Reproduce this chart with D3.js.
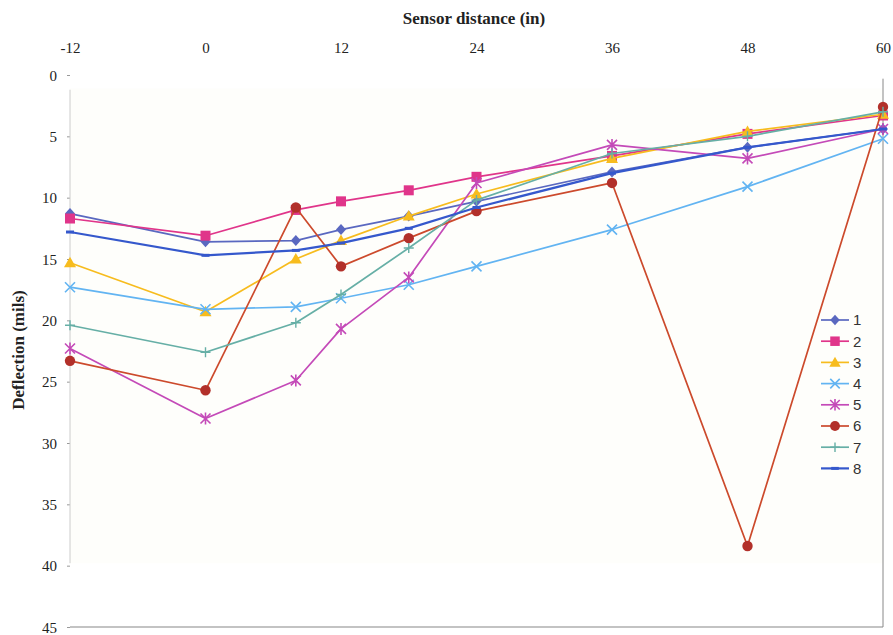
<!DOCTYPE html>
<html>
<head>
<meta charset="utf-8">
<script src="https://cdn.jsdelivr.net/npm/d3@7"></script>
<style>
  html, body { margin: 0; padding: 0; background: #fff; }
  svg { display: block; }
  .tick text { font-family: "Liberation Serif", "Times New Roman", serif; font-size: 15px; fill: #222; }
</style>
</head>
<body>
<svg id="chart" width="893" height="635"></svg>
<script>
// Sensor positions (in) and deflections (mils) for each drop
const distances = [-12, 0, 8, 12, 18, 24, 36, 48, 60];
const seriesNames = ["1", "2", "3", "4", "5", "6", "7", "8"];
const s1 = [11.3, 13.6, 13.5, 12.6, 11.5, 10.3, 7.9, 5.9, 4.4];
const s2 = [11.7, 13.1, 11.0, 10.3, 9.4, 8.3, 6.6, 4.8, 3.3];
const s3 = [15.3, 19.3, 15.0, 13.5, 11.5, 9.7, 6.8, 4.6, 3.2];
const s4 = [17.3, 19.1, 18.9, 18.2, 17.1, 15.6, 12.6, 9.1, 5.2];
const s5 = [22.3, 28.0, 24.9, 20.7, 16.5, 8.8, 5.7, 6.8, 4.4];
const s6 = [23.3, 25.7, 10.8, 15.6, 13.3, 11.1, 8.8, 38.4, 2.6];
const s7 = [20.4, 22.6, 20.2, 17.9, 14.1, 10.2, 6.4, 5.0, 3.0];
const s8 = [12.8, 14.7, 14.3, 13.7, 12.5, 10.8, 8.0, 5.9, 4.4];
const xTicks = [-12, 0, 12, 24, 36, 48, 60];
const yTicks = [0, 5, 10, 15, 20, 25, 30, 35, 40, 45];

const allSeries = [s1, s2, s3, s4, s5, s6, s7, s8];

const styles = [
  { line: "#5A68C0", fill: "#5A68C0", marker: "diamond" },
  { line: "#E0358A", fill: "#E0358A", marker: "square" },
  { line: "#F7BC1E", fill: "#F7BC1E", marker: "triangle" },
  { line: "#62B4F2", fill: "#62B4F2", marker: "x" },
  { line: "#C44AB8", fill: "#C44AB8", marker: "asterisk" },
  { line: "#CC4A2C", fill: "#B2302A", marker: "circle" },
  { line: "#66AFA6", fill: "#66AFA6", marker: "plus" },
  { line: "#3558CC", fill: "#3558CC", marker: "dash" }
];

const svg = d3.select("#chart");

const x = d3.scaleLinear().domain([-12, 60]).range([70, 883]);
const y = d3.scaleLinear().domain([0, 45]).range([75, 627]);

// faint plot background
svg.append("rect")
  .attr("x", x(-12)).attr("y", y(1.1))
  .attr("width", x(60) - x(-12)).attr("height", y(39.8) - y(1.1))
  .attr("fill", "#FEFEFB");

// top axis (distance)
const xAxis = d3.axisTop(x).tickValues(xTicks).tickSize(0).tickPadding(0).tickFormat(d => String(d));
const gx = svg.append("g").attr("transform", `translate(0, 53)`).call(xAxis);
gx.select(".domain").remove();

// left axis (deflection, increasing downward)
const yAxis = d3.axisLeft(y).tickValues(yTicks).tickSize(3).tickPadding(10);
const gy = svg.append("g").attr("transform", `translate(70, 0)`).call(yAxis);
gy.select(".domain").remove();
gy.selectAll(".tick line").attr("stroke", "#999");
gy.selectAll(".tick text").attr("dy", "0.35em");

// axis frame lines
svg.append("line").attr("x1", x(-12)).attr("x2", x(-12)).attr("y1", y(1.2)).attr("y2", y(39.8))
  .attr("stroke", "#ccc").attr("stroke-width", 1);
svg.append("line").attr("x1", x(60)).attr("x2", x(60)).attr("y1", y(0.3)).attr("y2", y(45))
  .attr("stroke", "#888").attr("stroke-width", 1);
svg.append("line").attr("x1", x(-12)).attr("x2", x(60)).attr("y1", y(45)).attr("y2", y(45))
  .attr("stroke", "#888").attr("stroke-width", 1.2);

// axis titles
svg.append("text")
  .attr("x", 474).attr("y", 24)
  .attr("text-anchor", "middle")
  .attr("font-family", "Liberation Serif, Times New Roman, serif")
  .attr("font-weight", "bold").attr("font-size", 17).attr("fill", "#222")
  .text("Sensor distance (in)");
svg.append("text")
  .attr("transform", "translate(24, 350) rotate(-90)")
  .attr("text-anchor", "middle")
  .attr("font-family", "Liberation Serif, Times New Roman, serif")
  .attr("font-weight", "bold").attr("font-size", 17).attr("fill", "#222")
  .text("Deflection (mils)");

// marker drawing
function drawMarker(g, type, cx, cy, st, scale = 1) {
  const s = scale;
  switch (type) {
    case "diamond":
      g.append("path").attr("d", `M${cx},${cy - 5.5 * s}L${cx + 5 * s},${cy}L${cx},${cy + 5.5 * s}L${cx - 5 * s},${cy}Z`).attr("fill", st.fill);
      break;
    case "square":
      g.append("rect").attr("x", cx - 5 * s).attr("y", cy - 5 * s).attr("width", 10 * s).attr("height", 10 * s).attr("fill", st.fill);
      break;
    case "triangle":
      g.append("path").attr("d", `M${cx},${cy - 6 * s}L${cx + 6 * s},${cy + 4.5 * s}L${cx - 6 * s},${cy + 4.5 * s}Z`).attr("fill", st.fill);
      break;
    case "x":
      g.append("path").attr("d", `M${cx - 5 * s},${cy - 5 * s}L${cx + 5 * s},${cy + 5 * s}M${cx - 5 * s},${cy + 5 * s}L${cx + 5 * s},${cy - 5 * s}`)
        .attr("stroke", st.fill).attr("stroke-width", 1.6);
      break;
    case "asterisk":
      g.append("path").attr("d", `M${cx - 5 * s},${cy - 5 * s}L${cx + 5 * s},${cy + 5 * s}M${cx - 5 * s},${cy + 5 * s}L${cx + 5 * s},${cy - 5 * s}M${cx},${cy - 6 * s}L${cx},${cy + 6 * s}`)
        .attr("stroke", st.fill).attr("stroke-width", 1.6);
      break;
    case "circle":
      g.append("circle").attr("cx", cx).attr("cy", cy).attr("r", 5.2 * s).attr("fill", st.fill);
      break;
    case "plus":
      g.append("path").attr("d", `M${cx - 5 * s},${cy}L${cx + 5 * s},${cy}M${cx},${cy - 5 * s}L${cx},${cy + 5 * s}`)
        .attr("stroke", st.fill).attr("stroke-width", 1.4);
      break;
    case "dash":
      g.append("path").attr("d", `M${cx - 4 * s},${cy}L${cx + 4 * s},${cy}`)
        .attr("stroke", st.fill).attr("stroke-width", 3);
      break;
  }
}

const line = d3.line().x((d, i) => x(distances[i])).y(d => y(d));

const plot = svg.append("g");
allSeries.forEach((vals, k) => {
  const st = styles[k];
  const g = plot.append("g");
  g.append("path").datum(vals).attr("d", line)
    .attr("fill", "none").attr("stroke", st.line)
    .attr("stroke-width", k === 7 ? 2.2 : 1.7).attr("stroke-linejoin", "round");
  vals.forEach((v, i) => drawMarker(g, st.marker, x(distances[i]), y(v), st));
});

// legend
const legend = svg.append("g");
seriesNames.forEach((name, k) => {
  const st = styles[k];
  const ly = 320 + k * 21.2;
  const g = legend.append("g");
  g.append("line").attr("x1", 821).attr("x2", 849).attr("y1", ly).attr("y2", ly)
    .attr("stroke", st.line).attr("stroke-width", k === 7 ? 2.2 : 1.7);
  drawMarker(g, st.marker, 835, ly, st, 0.95);
  g.append("text").attr("x", 853).attr("y", ly).attr("dy", "0.36em")
    .attr("font-family", "Liberation Sans, Arial, sans-serif").attr("font-size", 15).attr("fill", "#333")
    .text(name);
});
</script>
</body>
</html>
